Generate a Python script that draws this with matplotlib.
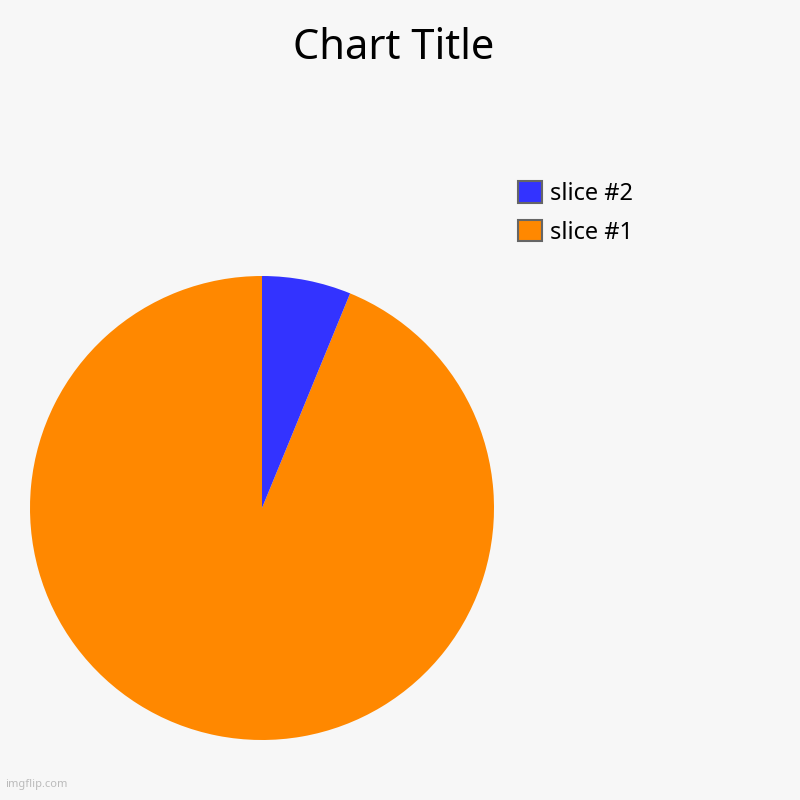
import matplotlib
matplotlib.use('Agg')
import matplotlib.pyplot as plt
from matplotlib.patches import Patch

plt.rcParams['font.family'] = ['Noto Sans', 'DejaVu Sans']

labels = ['slice #1', 'slice #2']
values = [93.8, 6.2]
colors = ['#ff8800', '#3333ff']

fig = plt.figure(figsize=(8, 8), dpi=100, facecolor='#f7f7f7')

# pie area
ax = fig.add_axes([0.0375, 0.075, 0.58, 0.58])
ax.set_facecolor('#f7f7f7')
ax.pie(values, colors=colors, startangle=90, counterclock=True,
       radius=1, wedgeprops=dict(linewidth=0))
ax.set_xlim(-1, 1)
ax.set_ylim(-1, 1)
ax.set_aspect('equal')
ax.axis('off')

fig.text(0.4925, 0.94, 'Chart Title', ha='center', va='center', fontsize=30, color='#000000')

# legend, reversed order like the original
handles = [Patch(facecolor=c, edgecolor='#666666', linewidth=1.5) for c in colors]
fig.legend(handles[::-1], labels[::-1], loc='upper left', bbox_to_anchor=(0.636, 0.785),
           frameon=False, fontsize=17, handlelength=1.0, handleheight=1.0,
           handletextpad=0.35, labelspacing=0.6, borderaxespad=0)

fig.text(0.006, 0.012, 'imgflip.com', ha='left', va='bottom', fontsize=8, color='#bbbbbb')

fig.savefig('out.png', dpi=100, facecolor=fig.get_facecolor())
